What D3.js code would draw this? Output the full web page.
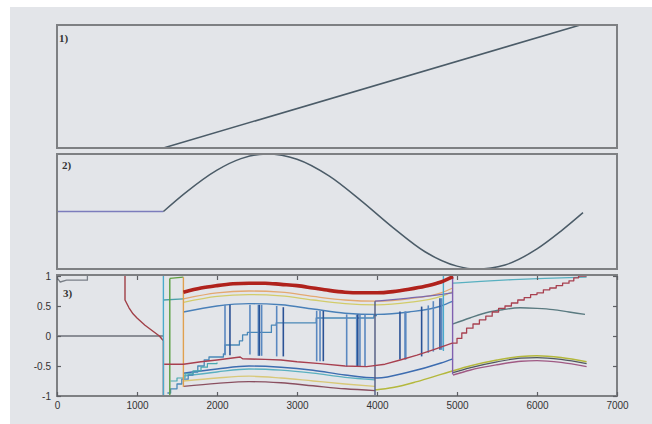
<!DOCTYPE html>
<html>
<head>
<meta charset="utf-8">
<title>three panels</title>
<style>
body{margin:0;background:#fff;}
.frame{fill:none;stroke:#7e8083;stroke-width:2;}
.axis path{display:none;}
.axis line{stroke:#5e6064;stroke-width:1.2;}
.axis text{font-family:"Liberation Sans",Arial,sans-serif;font-size:10px;fill:#333;}
.lbl{font-family:"Liberation Serif","Times New Roman",serif;font-weight:bold;font-size:11px;fill:#333;}
</style>
</head>
<body>
<script src="https://cdn.jsdelivr.net/npm/d3@7"></script>
<script>

var w = 652, h = 424;

var xTicks = [0,1000,2000,3000,4000,5000,6000,7000];
var yTicks3 = [-1,-0.5,0,0.5,1];
var panelNames = ["1)","2)","3)"];

// panel 1
var ramp = [[1330,0],[6540,1]];

// panel 2
var waveFlat = [[0,0],[1330,0]];
var wave = [[1330,0],[1600,0.32],[2000,0.72],[2300,0.92],[2620,1],[3000,0.91],[3400,0.62],[3800,0.19],
  [4200,-0.28],[4600,-0.7],[5000,-0.95],[5250,-1],[5600,-0.93],[6000,-0.65],[6300,-0.34],[6575,-0.02]];

// panel 3
var startLine = [[0,0.97],[40,0.9],[120,0.93],[380,0.93],[380,1]];
var zeroLine = [[0,0],[1330,0]];
var redDecay = [[850,1],[850,0.6],[900,0.47],[950,0.37],[1000,0.3],[1100,0.18],[1200,0.08],[1280,0.0],[1330,-0.08],[1330,-1]];
var thickRed = [[1580,0.73],[1800,0.8],[2000,0.84],[2200,0.87],[2400,0.88],[2600,0.88],[2800,0.86],[3000,0.84],[3200,0.8],
  [3400,0.76],[3600,0.73],[3800,0.72],[4000,0.72],[4200,0.74],[4400,0.78],[4600,0.83],[4800,0.9],[4950,0.99]];
var orangeBand = [[1580,0.62],[2000,0.72],[2400,0.75],[2800,0.73],[3200,0.66],[3600,0.6],[4000,0.58],[4400,0.62],[4800,0.72],[4950,0.8]];
var yellowBand = [[1580,0.56],[2000,0.66],[2400,0.69],[2800,0.67],[3200,0.6],[3600,0.54],[4000,0.52],[4400,0.56],[4800,0.66],[4950,0.74]];
var blueTop = [[1580,0.4],[2000,0.5],[2400,0.54],[2800,0.52],[3200,0.45],[3600,0.38],[4000,0.36],[4400,0.4],[4800,0.5],[4950,0.58]];
var tealEntry = [[1330,0.6],[1580,0.62]];
var redWave = [[1340,-0.47],[1580,-0.47],[1800,-0.43],[2000,-0.4],[2290,-0.35],[2320,-0.38],[2600,-0.39],[2800,-0.4],[3000,-0.43],
  [3290,-0.46],[3600,-0.5],[3870,-0.51],[4100,-0.47],[4290,-0.4],[4500,-0.32],[4700,-0.23],[4940,-0.12]];
var redSteps = [[4940,-0.12],[5000,-0.04],[5060,0.05],[5120,0.13],[5200,0.2],[5280,0.27],[5360,0.33],[5440,0.4],[5520,0.46],
  [5600,0.5],[5680,0.55],[5760,0.6],[5840,0.64],[5920,0.69],[6000,0.72],[6080,0.77],[6160,0.8],[6240,0.84],[6320,0.88],
  [6400,0.92],[6460,0.97],[6520,1.0],[6620,1.0]];
var blueSteps = [[1380,-0.95],[1420,-0.88],[1500,-0.8],[1560,-0.72],[1640,-0.65],[1700,-0.6],[1760,-0.5],[1840,-0.4],[1900,-0.35],
  [2080,-0.3],[2100,-0.15],[2280,-0.08],[2320,0.02],[2380,0.06],[2680,0.18],[2740,0.22],[3220,0.22],[3240,0.3],[3900,0.3],[3960,0.34],[4000,0.34]];
var tealSteps = [[1420,-0.75],[1500,-0.7],[1600,-0.63],[1700,-0.58],[1800,-0.52],[1880,-0.46],[2000,-0.44]];
var blueLow = [[1580,-0.62],[2000,-0.55],[2400,-0.5],[2800,-0.52],[3200,-0.57],[3600,-0.65],[4000,-0.7],[4400,-0.6],[4800,-0.45],[4950,-0.38]];
var tealLow = [[1580,-0.67],[2000,-0.6],[2400,-0.55],[2800,-0.57],[3200,-0.62],[3600,-0.69],[3975,-0.73]];
var yellowLow = [[1580,-0.75],[2000,-0.7],[2400,-0.67],[2800,-0.7],[3200,-0.75],[3600,-0.8],[3975,-0.84]];
var darkLow = [[1580,-0.84],[2000,-0.79],[2400,-0.76],[2800,-0.78],[3200,-0.83],[3600,-0.88],[3975,-0.91]];
var greenRise = [[3975,-0.9],[4200,-0.86],[4500,-0.76],[4800,-0.64],[4950,-0.58],[5160,-0.5],[5500,-0.4],[5800,-0.34],[6000,-0.33],[6300,-0.36],[6620,-0.43]];
var darkRight = [[4950,-0.61],[5160,-0.53],[5500,-0.43],[5800,-0.37],[6000,-0.36],[6300,-0.39],[6620,-0.46]];
var purpleRight = [[4950,-0.65],[5160,-0.57],[5500,-0.48],[5800,-0.42],[6000,-0.41],[6300,-0.44],[6620,-0.51]];
var tealRight = [[4950,0.2],[5160,0.3],[5400,0.4],[5580,0.44],[5790,0.47],[6000,0.46],[6200,0.44],[6400,0.4],[6600,0.36]];
var cyanTop = [[4950,0.88],[5300,0.91],[5700,0.94],[6100,0.96],[6620,0.98]];
var purpleRoof = [[3975,0.58],[4300,0.62],[4600,0.66],[4940,0.72]];
var greenRoof = [[1410,0.96],[1580,0.98]];

// vertical rules
var edgeX   = [1330, 1410, 1580, 3975, 4830, 4945];
var edgeTop = [1, 0.96, 0.98, 0.58, 1, 1];
var edgeBot = [-1, -1, -0.85, -1, -0.25, -0.64];

// blue switching lines
var vertX   = [2100,2162,2412,2517,2530,2558,2746,2829,3246,3288,3329,3621,3746,3760,3787,3850,4287,4350,4360,4558,4641,4704,4787,4808];
var vertTop = [0.52,0.52,0.52,0.52,0.52,0.52,0.5,0.48,0.42,0.42,0.42,0.36,0.36,0.36,0.36,0.36,0.41,0.41,0.41,0.49,0.51,0.58,0.63,0.63];
var vertBot = [-0.32,-0.32,-0.31,-0.33,-0.33,-0.33,-0.34,-0.34,-0.42,-0.42,-0.42,-0.51,-0.51,-0.51,-0.51,-0.51,-0.39,-0.39,-0.39,-0.34,-0.28,-0.26,-0.23,-0.23];

var svg = d3.select("body").append("svg").attr("width", w).attr("height", h);
svg.append("rect").attr("x", 10).attr("y", 7).attr("width", w - 10).attr("height", h - 7).attr("fill", "#e3e5e9");

// soft look of the scanned figure
svg.append("filter").attr("id","soft").append("feGaussianBlur").attr("stdDeviation", 0.45);

var x = d3.scaleLinear().domain([0,7000]).range([57,617]);
var y1 = d3.scaleLinear().domain([0,1]).range([148,25]);
var y2 = d3.scaleLinear().domain([-1,1]).range([269,154]);
var y3 = d3.scaleLinear().domain([-1,1]).range([396,276]);

var art = svg.append("g").attr("filter","url(#soft)");

function frame(top, bottom){
  art.append("rect").attr("class","frame")
    .attr("x", x(0)).attr("y", top).attr("width", x(7000) - x(0)).attr("height", bottom - top);
}

function draw(g, data, ys, color, width, curve){
  var line = d3.line().x(function(d){return x(d[0]);}).y(function(d){return ys(d[1]);}).curve(curve || d3.curveLinear);
  g.append("path").datum(data).attr("d", line)
    .attr("fill","none").attr("stroke", color).attr("stroke-width", width)
    .attr("stroke-linejoin","round");
}

// panel 1
var g1 = art.append("g");
draw(g1, ramp, y1, "#4c5c68", 1.5);
frame(25, 148);

// panel 2
var g2 = art.append("g");
draw(g2, waveFlat, y2, "#7c7cbc", 1.5);
draw(g2, wave, y2, "#4c5c68", 1.5, d3.curveMonotoneX);
frame(154, 269);

// panel 3
svg.append("clipPath").attr("id","c3").append("rect")
  .attr("x", x(0)).attr("y", 274).attr("width", x(7000) - x(0)).attr("height", 124);
var g3 = art.append("g").attr("clip-path","url(#c3)");

var mono = d3.curveMonotoneX;
draw(g3, startLine, y3, "#7a8088", 1.3);
draw(g3, zeroLine, y3, "#6c7078", 1.7);
draw(g3, redDecay, y3, "#a04048", 1.4);
draw(g3, orangeBand, y3, "#e4a870", 1.3, mono);
draw(g3, yellowBand, y3, "#d2cc6a", 1.3, mono);
draw(g3, blueTop, y3, "#4a80b8", 1.4, mono);
draw(g3, tealEntry, y3, "#4aa0a8", 1.3);
draw(g3, tealLow, y3, "#5ab0c0", 1.3, mono);
draw(g3, blueLow, y3, "#3c6cb0", 1.4, mono);
draw(g3, yellowLow, y3, "#d8c878", 1.3, mono);
draw(g3, darkLow, y3, "#8a5060", 1.4, mono);
draw(g3, greenRise, y3, "#b4b83c", 1.5, mono);
draw(g3, darkRight, y3, "#505860", 1.2, mono);
draw(g3, purpleRight, y3, "#a05a84", 1.4, mono);
draw(g3, tealRight, y3, "#5a7a80", 1.4, mono);
draw(g3, cyanTop, y3, "#58b0c0", 1.3, mono);
draw(g3, purpleRoof, y3, "#7a68b0", 1.3, mono);
draw(g3, greenRoof, y3, "#60a040", 1.3);
draw(g3, blueSteps, y3, "#4a88b8", 1.3, d3.curveStepAfter);
draw(g3, tealSteps, y3, "#48a8b0", 1.2, d3.curveStepAfter);

var edgeColor = ["#48aacc", "#5aa040", "#e0a050", "#505a80", "#48aacc", "#8060b0"];
edgeX.forEach(function(v, i){
  draw(g3, [[v, edgeTop[i]], [v, edgeBot[i]]], y3, edgeColor[i], 1.4);
});

vertX.forEach(function(v, i){
  draw(g3, [[v, vertTop[i]], [v, vertBot[i]]], y3, i % 3 == 1 ? "#2c5296" : "#5a88c0", 1.6);
});

draw(g3, redWave, y3, "#a84050", 1.4);
draw(g3, redSteps, y3, "#a84050", 1.3, d3.curveStepAfter);
draw(g3, thickRed, y3, "#b0201c", 3.6, mono);

frame(275, 396);

// panel 3 axes, ticks inside like matlab
var fmt = function(d){ return String(d); };
svg.append("g").attr("class","axis").attr("transform","translate(0,396)")
  .call(d3.axisBottom(x).tickValues(xTicks).tickSizeInner(-4).tickSizeOuter(0).tickPadding(6).tickFormat(fmt));
svg.append("g").attr("class","axis").attr("transform","translate(0,276)")
  .call(d3.axisTop(x).tickValues(xTicks).tickSizeInner(-4).tickSizeOuter(0).tickFormat(""));
svg.append("g").attr("class","axis").attr("transform","translate(" + x(0) + ",0)")
  .call(d3.axisLeft(y3).tickValues(yTicks3).tickSizeInner(-4).tickSizeOuter(0).tickPadding(6).tickFormat(fmt));
svg.append("g").attr("class","axis").attr("transform","translate(" + x(7000) + ",0)")
  .call(d3.axisRight(y3).tickValues(yTicks3).tickSizeInner(-4).tickSizeOuter(0).tickFormat(""));

// panel names
var namePos = [[59,42],[62,169],[63,297]];
panelNames.forEach(function(t, i){
  svg.append("text").attr("class","lbl").attr("x", namePos[i][0]).attr("y", namePos[i][1]).text(t);
});

</script>
</body>
</html>
